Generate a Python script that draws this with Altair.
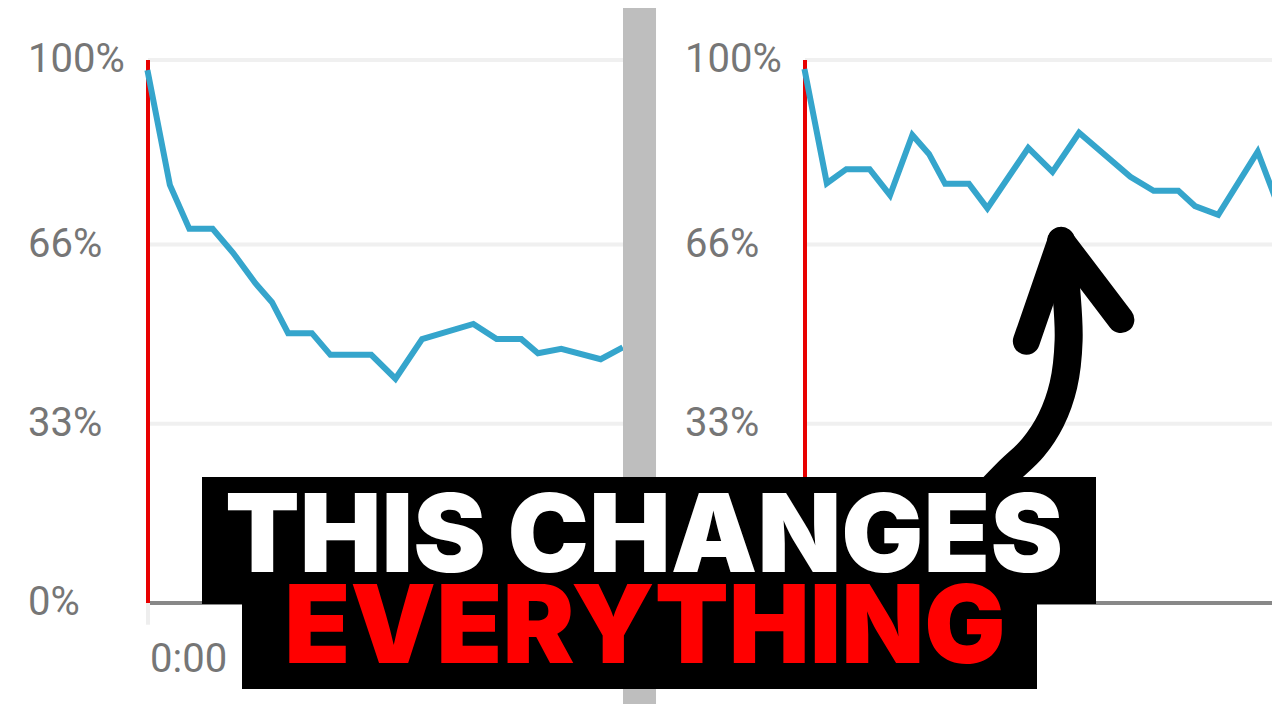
import altair as alt
import pandas as pd

# ---- data ----
time_pct = [0, 4.6, 8.7, 13.6, 17.9, 22.6, 26.1, 29.5, 34.5, 38.4,
            47.0, 52.1, 57.7, 68.5, 73.4, 78.6, 82.1, 87.0, 95.3, 99.4]
retention_before = [97.6, 77.0, 68.9, 68.9, 64.5, 58.9, 55.4, 49.7, 49.7, 45.7,
                    45.7, 41.3, 48.6, 51.4, 48.6, 48.6, 46.0, 46.8, 44.9, 46.8]
retention_after = [97.8, 77.3, 79.9, 79.9, 75.1, 86.2, 82.7, 77.2, 77.2, 72.7,
                   83.8, 79.4, 86.6, 78.5, 75.9, 75.9, 73.1, 71.5, 83.1, 73.7]
grid_values = [100, 66, 33, 0]
grid_labels = ["100%", "66%", "33%", "0%"]
start_label = "0:00"
headline_1 = "THIS CHANGES"
headline_2 = "EVERYTHING"
# arrow path in the right panel's (time, retention) space
arrow_t = [36.0, 42.6, 48.0, 51.8, 54.4, 55.5, 55.0, 53.9]
arrow_r = [18.0, 24.0, 28.6, 33.7, 40.1, 48.4, 57.6, 66.7]
head_t = [46.6, 53.9, 66.5]
head_r = [48.2, 66.7, 52.2]

W, H = 1264, 696
BLUE = "#35a5cc"
RED = "#e80000"
LABEL_GREY = "#767676"

y_scale = alt.Scale(domain=[0, 100], range=[595, 52])

series_before = pd.DataFrame({"t": time_pct, "r": retention_before})
series_after = pd.DataFrame({"t": time_pct, "r": retention_after})
grid = pd.DataFrame({"v": grid_values, "label": grid_labels, "t0": 0, "t1": 100})
start = pd.DataFrame({"t": [0], "r": [100], "r0": [0], "rt": [-4], "label": [start_label]})
divider = pd.DataFrame({"t": [100], "t2": [106.95]})
arrow = pd.DataFrame({"t": arrow_t, "r": arrow_r, "o": list(range(len(arrow_t)))})
head = pd.DataFrame({"t": head_t, "r": head_r, "o": list(range(len(head_t)))})
one = pd.DataFrame({"k": [0]})


def panel(series, x_range, with_start_label, label_x):
    xs = alt.Scale(domain=[0, 100], range=x_range)
    gridl = alt.Chart(grid).mark_rule(color="#f0f0f0", strokeWidth=4).encode(
        x=alt.X("t0:Q", scale=xs, axis=None), x2="t1:Q",
        y=alt.Y("v:Q", scale=y_scale, axis=None))
    gridl = gridl.transform_filter("datum.v > 0")
    base_axis = alt.Chart(start).mark_rule(color="#888888", strokeWidth=4).encode(
        x=alt.X("t:Q", scale=xs, axis=None), x2=alt.datum(100),
        y=alt.Y("r0:Q", scale=y_scale, axis=None))
    tick = alt.Chart(start).mark_rule(color="#eeeeee", strokeWidth=4).encode(
        x=alt.X("t:Q", scale=xs, axis=None),
        y=alt.Y("r0:Q", scale=y_scale, axis=None), y2="rt:Q")
    red = alt.Chart(start).mark_rule(color=RED, strokeWidth=4).encode(
        x=alt.X("t:Q", scale=xs, axis=None),
        y=alt.Y("r:Q", scale=y_scale, axis=None), y2="r0:Q")
    line = alt.Chart(series).mark_line(color=BLUE, strokeWidth=6, strokeJoin="miter",
                                       strokeCap="square").encode(
        x=alt.X("t:Q", scale=xs, axis=None),
        y=alt.Y("r:Q", scale=y_scale, axis=None))
    labels = alt.Chart(grid).mark_text(font="Roboto", fontSize=40, color=LABEL_GREY,
                                       align="left", baseline="middle").encode(
        x=alt.value(label_x),
        y=alt.Y("v:Q", scale=y_scale, axis=None),
        text="label:N")
    layers = [gridl, base_axis, tick, red, line, labels]
    if with_start_label:
        zero = alt.Chart(start).mark_text(font="Roboto", fontSize=40, color=LABEL_GREY,
                                          align="left", baseline="middle", dx=2).encode(
            x=alt.X("t:Q", scale=xs, axis=None),
            y=alt.value(652),
            text="label:N")
        bar = alt.Chart(divider).mark_rect(color="#bebebe").encode(
            x=alt.X("t:Q", scale=xs, axis=None), x2="t2:Q",
            y=alt.value(-10), y2=alt.value(H + 10))
        layers += [zero, bar]
    return layers, xs


left_layers, xs_left = panel(series_before, [140, 615], True, 20)
right_layers, xs_right = panel(series_after, [797, 1272], False, 677)

shaft = alt.Chart(arrow).mark_line(color="black", strokeWidth=28, strokeCap="round",
                                   interpolate="catmull-rom").encode(
    x=alt.X("t:Q", scale=xs_right, axis=None),
    y=alt.Y("r:Q", scale=y_scale, axis=None),
    order="o:Q")
arrow_head = alt.Chart(head).mark_line(color="black", strokeWidth=27, strokeCap="round",
                                       strokeJoin="round").encode(
    x=alt.X("t:Q", scale=xs_right, axis=None),
    y=alt.Y("r:Q", scale=y_scale, axis=None),
    order="o:Q")
right_layers += [shaft, arrow_head]

box_top = alt.Chart(one).mark_rect(color="black").encode(
    x=alt.value(194), x2=alt.value(1088), y=alt.value(469), y2=alt.value(596))
box_bottom = alt.Chart(one).mark_rect(color="black").encode(
    x=alt.value(234), x2=alt.value(1029), y=alt.value(588), y2=alt.value(681))
text_1 = alt.Chart(one).mark_text(text=headline_1, font="Inter", fontWeight=900,
                                  fontSize=109, color="white", align="center",
                                  baseline="alphabetic").encode(
    x=alt.value(636), y=alt.value(564))
text_2 = alt.Chart(one).mark_text(text=headline_2, font="Inter", fontWeight=900,
                                  fontSize=108, color="#ff0000", align="center",
                                  baseline="alphabetic").encode(
    x=alt.value(637), y=alt.value(655))

left = alt.layer(*left_layers)
right = alt.layer(*right_layers)
overlay = alt.layer(box_top, box_bottom, text_1, text_2)

chart = alt.layer(left, right, overlay).resolve_scale(x="independent").properties(
    width=W, height=H, padding=0, autosize=alt.AutoSizeParams(type="none"),
    background="white"
).configure_view(strokeWidth=0)

chart.save("out.html", embed_options={"renderer": "svg", "actions": False})
